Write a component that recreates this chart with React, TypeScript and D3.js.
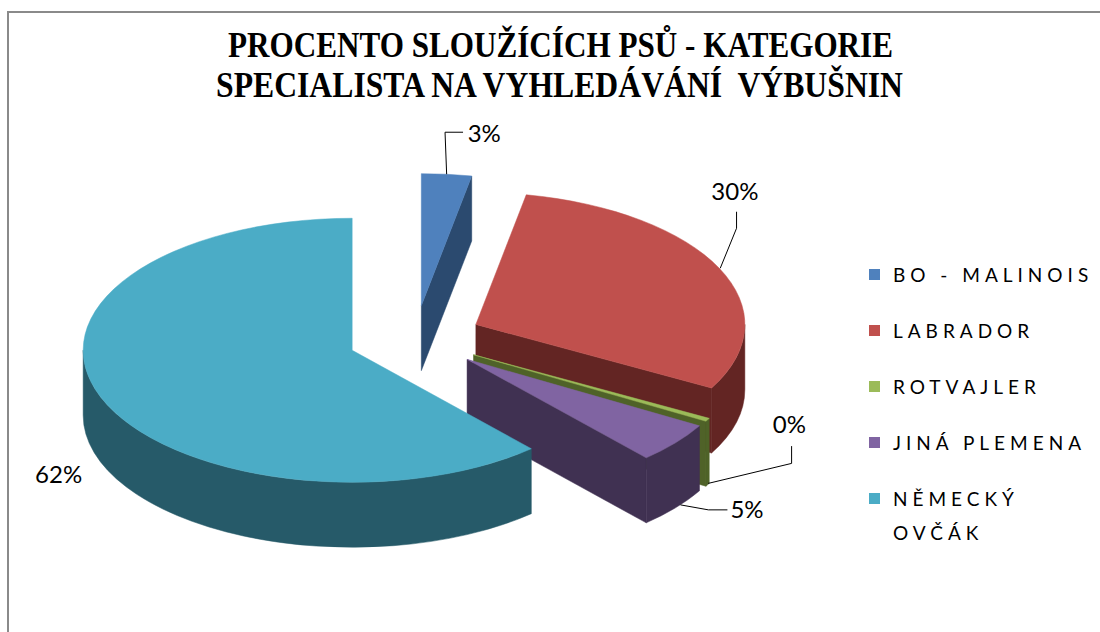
import React from "react";
import * as d3 from "d3";

// ---- data ----
const categories = ["BO - MALINOIS", "LABRADOR", "ROTVAJLER", "JINÁ PLEMENA", "NĚMECKÝ OVČÁK"];
const values = [3, 30, 0.4, 5, 61.6];
const titleLines = ["PROCENTO SLOUŽÍCÍCH PSŮ - KATEGORIE", "SPECIALISTA NA VYHLEDÁVÁNÍ  VÝBUŠNIN"];

// ---- styles ----
const topColors = ["#4F81BD", "#C0504D", "#9BBB59", "#8064A2", "#4BACC6"];
const sideColors = ["#2B4A6F", "#632523", "#4F6228", "#403152", "#265A69"];

// ---- layout ----
const W = 1100;
const H = 632;
const CX = 415;
const CY = 338.5;
const RX = 269;
const RY = 132;
const DEPTH = 65;
const EXPLODE = 0.25;
const LEGEND_X = 869;
const LEGEND_TEXT_X = 893;
const LEGEND_FONT = 19;
const LEGEND_SPACING = 5;

// label layout: anchor on top/bottom rim at mid-angle, leader points & text offsets
const labelLayout = [
  { rim: "top", pts: [[0, 0], [-1.6, -42], [16.4, -42]], text: [21, -32], anchor: "start" },
  { rim: "top", pts: [[1, 0], [17.3, -40], [17.3, -56.5]], text: [15.6, -68.3], anchor: "middle" },
  { rim: "bottom", pts: [[0.6, -1.4], [84, -21.4], [84, -38.7]], text: [81.8, -51.7], anchor: "middle" },
  { rim: "bottom", pts: [[5, -3], [33, 2], [52, 2]], text: [55, 10], anchor: "start" },
  { rim: "bottom", pts: [], text: [-42.2, 21], anchor: "middle" },
];

type Pt = [number, number];

function proj(ox: number, oy: number, a: number, dz = 0): Pt {
  return [ox + RX * Math.sin(a), oy - RY * Math.cos(a) + dz];
}

function arcCmd(a0: number, a1: number, ox: number, oy: number, dz: number, sweep: number) {
  const large = Math.abs(a1 - a0) > Math.PI ? 1 : 0;
  const p = proj(ox, oy, sweep ? a1 : a0, dz);
  return `A ${RX} ${RY} 0 ${large} ${sweep} ${p[0]} ${p[1]}`;
}

let measureCtx: CanvasRenderingContext2D | null = null;
function textWidth(s: string): number {
  try {
    if (!measureCtx && typeof document !== "undefined") {
      measureCtx = document.createElement("canvas").getContext("2d");
    }
    if (measureCtx) {
      measureCtx.font = `${LEGEND_FONT}px Lato, 'Open Sans', sans-serif`;
      return measureCtx.measureText(s).width + s.length * LEGEND_SPACING;
    }
  } catch (e) {
    /* ignore */
  }
  return s.length * (LEGEND_FONT * 0.6 + LEGEND_SPACING);
}

function wrapLegend(s: string, maxW: number): string[] {
  if (textWidth(s) <= maxW) return [s];
  const words = s.split(" ");
  const lines: string[] = [];
  let cur = "";
  for (const w of words) {
    const t = cur ? cur + " " + w : w;
    if (cur && textWidth(t) > maxW) {
      lines.push(cur);
      cur = w;
    } else cur = t;
  }
  if (cur) lines.push(cur);
  return lines;
}

export default function App() {
  const pie = d3
    .pie<number>()
    .sort(null)
    .startAngle(0)
    .endAngle(2 * Math.PI)
    .value((d) => d);
  const arcs = pie(values);

  const slices = arcs.map((a, i) => {
    const a0 = a.startAngle;
    const a1 = a.endAngle;
    const mid = (a0 + a1) / 2;
    const ox = CX + EXPLODE * RX * Math.sin(mid);
    const oy = CY - EXPLODE * RY * Math.cos(mid);
    const faces: { d: string; fill: string }[] = [];

    const cut = (ang: number) => {
      const p = proj(ox, oy, ang, 0);
      const pb = proj(ox, oy, ang, DEPTH);
      return `M ${ox} ${oy} L ${p[0]} ${p[1]} L ${pb[0]} ${pb[1]} L ${ox} ${oy + DEPTH} Z`;
    };
    if (Math.cos(a0 - Math.PI / 2) < -1e-6) faces.push({ d: cut(a0), fill: sideColors[i] });
    if (Math.cos(a1 + Math.PI / 2) < -1e-6) faces.push({ d: cut(a1), fill: sideColors[i] });

    const s = Math.max(a0, Math.PI / 2);
    const e = Math.min(a1, (3 * Math.PI) / 2);
    if (e > s) {
      const ps = proj(ox, oy, s, 0);
      const pe = proj(ox, oy, e, DEPTH);
      const d =
        `M ${ps[0]} ${ps[1]} ` +
        arcCmd(s, e, ox, oy, 0, 1) +
        ` L ${pe[0]} ${pe[1]} ` +
        arcCmd(s, e, ox, oy, DEPTH, 0) +
        " Z";
      faces.push({ d, fill: sideColors[i] });
    }

    const p0 = proj(ox, oy, a0, 0);
    const top = `M ${ox} ${oy} L ${p0[0]} ${p0[1]} ` + arcCmd(a0, a1, ox, oy, 0, 1) + " Z";
    faces.push({ d: top, fill: topColors[i] });

    const L = labelLayout[i];
    const anc = proj(ox, oy, mid, L.rim === "top" ? 0 : DEPTH);
    return { faces, anc, L, value: values[i], i };
  });

  const legendY = [275, 331, 387, 443, 499];
  const lineGap = 34;
  const legendMaxW = W - LEGEND_TEXT_X - 5;

  return (
    <svg
      width={W}
      height={H}
      style={{ position: "absolute", left: 0, top: 0, background: "#fff" }}
      xmlns="http://www.w3.org/2000/svg"
    >
      <rect x={0} y={0} width={W} height={H} fill="#fff" />
      <path d={`M 8 ${H} V 12 H ${W}`} fill="none" stroke="#8a8a8a" strokeWidth={2} />

      {/* title */}
      <g fontFamily="'Liberation Serif', 'Times New Roman', serif" fontWeight="bold" fontSize={35} fill="#000">
        <text x={560.5} y={57} textAnchor="middle" textLength={665} lengthAdjust="spacingAndGlyphs" style={{ whiteSpace: "pre" }}>
          {titleLines[0]}
        </text>
        <text x={559.5} y={97} textAnchor="middle" textLength={687} lengthAdjust="spacingAndGlyphs" style={{ whiteSpace: "pre" }}>
          {titleLines[1]}
        </text>
      </g>

      {/* pie */}
      {slices.map((s) => (
        <g key={s.i}>
          {s.faces.map((f, k) => (
            <path key={k} d={f.d} fill={f.fill} stroke={f.fill} strokeWidth={0.5} strokeLinejoin="round" />
          ))}
        </g>
      ))}

      {/* data labels */}
      <g fontFamily="Lato, 'Open Sans', sans-serif" fontSize={24} fill="#000">
        {slices.map((s) => {
          const pts = s.L.pts.map(([dx, dy]) => [s.anc[0] + dx, s.anc[1] + dy] as Pt);
          return (
            <g key={s.i}>
              {pts.length > 1 && <path d={d3.line()(pts) || ""} fill="none" stroke="#000" strokeWidth={1} />}
              <text x={s.anc[0] + s.L.text[0]} y={s.anc[1] + s.L.text[1]} textAnchor={s.L.anchor as any}>
                {`${Math.round(s.value)}%`}
              </text>
            </g>
          );
        })}
      </g>

      {/* legend */}
      <g fontFamily="Lato, 'Open Sans', sans-serif" fontSize={LEGEND_FONT} fill="#000" letterSpacing={LEGEND_SPACING}>
        {categories.map((c, i) => {
          const lines = wrapLegend(c, legendMaxW);
          return (
            <g key={c}>
              <rect x={LEGEND_X} y={legendY[i] - 6} width={11} height={11} fill={topColors[i]} />
              {lines.map((ln, k) => (
                <text key={k} x={LEGEND_TEXT_X} y={legendY[i] + 7 + k * lineGap}>
                  {ln}
                </text>
              ))}
            </g>
          );
        })}
      </g>
    </svg>
  );
}
